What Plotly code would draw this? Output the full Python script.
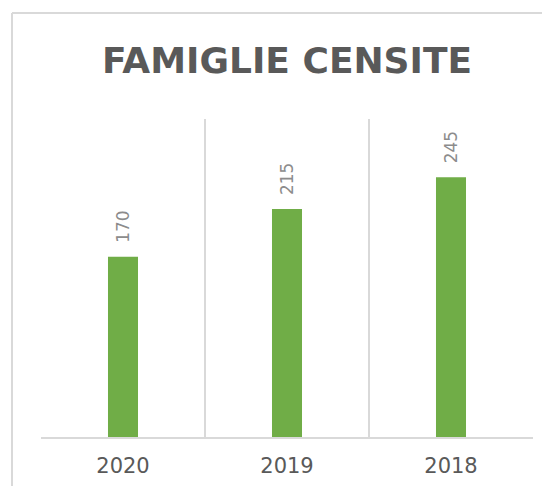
import plotly.graph_objects as go

categories = ["2020", "2019", "2018"]
values = [170, 215, 245]
title_text = "FAMIGLIE CENSITE"

W, H = 550, 486
# the page body adds an 8px offset; margins are set to compensate
ML, MR, MT, MB = 33, 25, 111, 57
pw = W - ML - MR
ph = H - MT - MB

fig = go.Figure()
fig.add_trace(go.Bar(
    x=categories, y=values,
    marker=dict(color="#70AD47", line=dict(width=0)),
    hoverinfo="skip",
))

for i, v in enumerate(values):
    fig.add_annotation(
        x=i, y=v, xref="x", yref="y",
        text=str(v), textangle=-90,
        showarrow=False, yanchor="bottom", xanchor="center",
        yshift=12,
        font=dict(family="DejaVu Sans", size=17, color="#8c8c8c"),
    )

# outer chart border (left & top visible)
bx = (4 - ML) / pw
by = (H - MB - 5) / ph
fig.add_shape(type="line", xref="paper", yref="paper",
              x0=bx, x1=bx, y0=(H - MB - (H + 10)) / ph, y1=by,
              line=dict(color="#d9d9d9", width=2))
fig.add_shape(type="line", xref="paper", yref="paper",
              x0=bx, x1=(W + 10 - ML) / pw, y0=by, y1=by,
              line=dict(color="#d9d9d9", width=2))

fig.update_layout(
    width=W, height=H, autosize=False,
    margin=dict(l=ML, r=MR, t=MT, b=MB, pad=0, autoexpand=False),
    paper_bgcolor="white", plot_bgcolor="white",
    bargap=0.817,
    showlegend=False,
    title=dict(
        text=title_text,
        font=dict(family="DejaVu Sans", size=36, color="#595959", weight="bold"),
        x=0.5, xref="paper", xanchor="center",
        y=1 - 52 / H, yref="container", yanchor="middle",
    ),
    xaxis=dict(
        type="category",
        categoryorder="array", categoryarray=categories,
        range=[-0.5, len(categories) - 0.5],
        showgrid=True, gridcolor="#d9d9d9", gridwidth=1.5,
        tickson="boundaries", ticks="",
        showline=True, linecolor="#d9d9d9", linewidth=1.5,
        tickfont=dict(family="DejaVu Sans", size=21, color="#595959"),
        tickangle=0,
        ticklabelstandoff=9,
        zeroline=False,
    ),
    yaxis=dict(
        range=[0, 300], visible=False, showgrid=False, zeroline=False,
    ),
)

fig.write_html("out.html")
